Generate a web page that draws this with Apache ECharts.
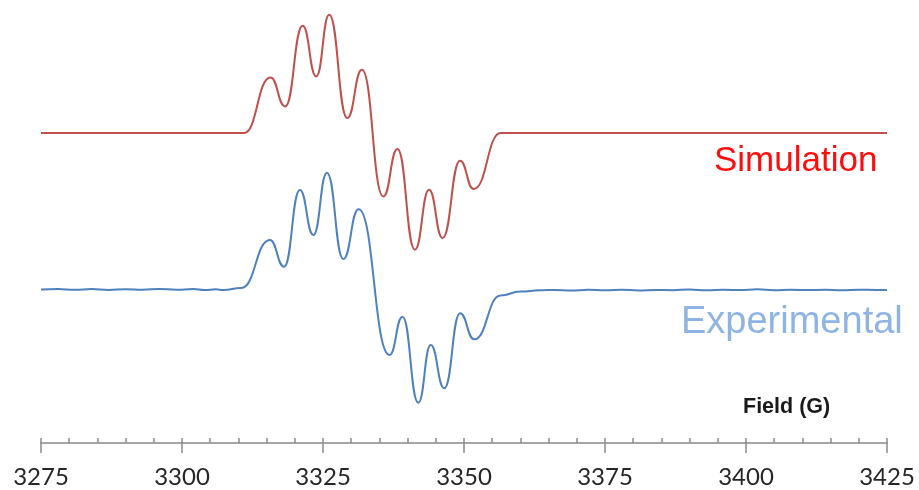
<!DOCTYPE html>
<html>
<head>
<meta charset="utf-8">
<script src="https://cdn.jsdelivr.net/npm/echarts@6/dist/echarts.min.js"></script>
<style>
html,body{margin:0;padding:0;background:#fff;}
#chart{width:919px;height:490px;}
</style>
</head>
<body>
<div id="chart"></div>
<script>
// Field axis (G)
const fieldTicks = [3275, 3300, 3325, 3350, 3375, 3400, 3425];

// Simulated spectrum: field (G) at baseline ends and turning points, derivative signal (arb. units)
const simField = [3275, 3311.0, 3315.7, 3318.3, 3321.4, 3323.8, 3326.1, 3329.3, 3331.9, 3335.7, 3338.2, 3341.3, 3343.8, 3346.2, 3349.3, 3351.7, 3356.5, 3425];
const simSignal = [0, 0, 0.556, 0.266, 1.073, 0.566, 1.183, 0.15, 0.633, -0.634, -0.16, -1.167, -0.567, -1.05, -0.277, -0.56, 0, 0];

// Experimental spectrum (baseline noise + turning points)
const expField = [3275, 3278, 3281, 3284, 3287, 3290, 3293, 3296, 3299, 3302, 3304, 3306, 3307.3, 3310.5, 3315.6, 3318.1, 3320.9, 3323.3, 3325.7, 3328.6, 3331.3, 3336.8, 3339.1, 3341.9, 3344.1, 3346.5, 3349.3, 3351.8, 3356.5, 3360, 3363.5, 3366, 3369, 3372, 3375, 3378, 3381, 3384, 3387, 3390, 3393, 3396, 3399, 3402, 3405, 3408, 3411, 3414, 3417, 3420, 3423, 3425];
const expSignal = [0.00, 0.004, -0.003, 0.005, -0.004, 0.003, -0.002, 0.006, -0.003, 0.004, -0.006, 0.002, -0.005, 0.015, 0.495, 0.228, 0.995, 0.545, 1.168, 0.305, 0.802, -0.655, -0.272, -1.132, -0.555, -0.988, -0.238, -0.498, -0.06, -0.02, -0.008, -0.004, -0.010, -0.003, -0.008, -0.002, -0.009, -0.004, -0.007, 0.000, -0.008, -0.003, -0.006, 0.002, -0.007, -0.002, -0.006, -0.003, -0.007, -0.002, -0.005, -0.004];

// Vertical offsets of the stacked traces (arb. units)
const simOffset = 3.10;
const expOffset = 1.535;

const simData = simField.map((x, i) => [x, simSignal[i] + simOffset]);
const expData = expField.map((x, i) => [x, expSignal[i] + expOffset]);

const chart = echarts.init(document.getElementById('chart'), null, {renderer: 'canvas'});
const axisColor = '#8a8a8a';
chart.setOption({
  animation: false,
  backgroundColor: '#ffffff',
  title: [
    {text: 'Simulation', left: 714, top: 144, padding: 0,
     textStyle: {fontFamily: 'Liberation Sans', fontSize: 35, fontWeight: 'normal', color: '#ff0d0d'}},
    {text: 'Experimental', left: 681, top: 304, padding: 0,
     textStyle: {fontFamily: 'Liberation Sans', fontSize: 38, fontWeight: 'normal', color: '#8eb4e3'}},
    {text: 'Field (G)', left: 743, top: 396, padding: 0,
     textStyle: {fontFamily: 'Liberation Sans', fontSize: 21.5, fontWeight: 'bold', color: '#1a1a1a'}}
  ],
  grid: {left: 41, right: 32, top: 3, bottom: 47},
  xAxis: [
    {
      type: 'value', min: fieldTicks[0], max: fieldTicks[fieldTicks.length - 1], interval: 25,
      position: 'bottom',
      axisLine: {show: true, onZero: false, lineStyle: {color: axisColor, width: 1.5}},
      axisTick: {show: true, inside: false, length: 10, lineStyle: {color: axisColor, width: 1.5}},
      minorTick: {show: false},
      splitLine: {show: false},
      axisLabel: {show: true, margin: 22, color: '#262626', fontFamily: 'Lato', fontSize: 24,
                  showMinLabel: true, showMaxLabel: true,
                  formatter: function (v) { return String(v); }}
    },
    {
      type: 'value', min: fieldTicks[0], max: fieldTicks[fieldTicks.length - 1], interval: 25,
      position: 'bottom', offset: 0,
      axisLine: {show: false, onZero: false},
      axisTick: {show: true, inside: true, length: 5, lineStyle: {color: axisColor, width: 1.5}},
      minorTick: {show: true, splitNumber: 5, length: 5, lineStyle: {color: axisColor, width: 1.5}},
      splitLine: {show: false},
      axisLabel: {show: false}
    }
  ],
  yAxis: {type: 'value', min: 0, max: 4.4, show: false, splitLine: {show: false}},
  series: [
    {name: 'Simulation', type: 'line', xAxisIndex: 0, data: simData, showSymbol: false,
     smooth: 0.5, smoothMonotone: 'x',
     lineStyle: {color: '#c0504d', width: 2}, itemStyle: {color: '#c0504d'}},
    {name: 'Experimental', type: 'line', xAxisIndex: 0, data: expData, showSymbol: false,
     smooth: 0.5, smoothMonotone: 'x',
     lineStyle: {color: '#4f81bd', width: 2}, itemStyle: {color: '#4f81bd'}}
  ]
});
</script>
</body>
</html>
